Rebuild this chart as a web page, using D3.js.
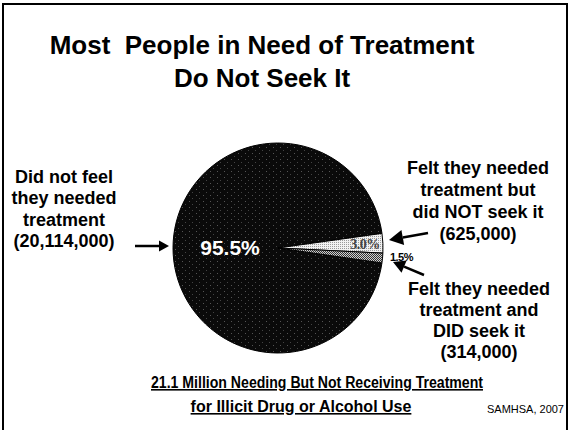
<!DOCTYPE html>
<html>
<head>
<meta charset="utf-8">
<script src="https://cdn.jsdelivr.net/npm/d3@7"></script>
<style>
  html, body { margin: 0; padding: 0; background: #fff; }
  svg { display: block; }
  text { font-family: "Liberation Sans", Arial, sans-serif; }
</style>
</head>
<body>
<div id="chart"></div>
<script>
// ---- data ----
const titleLines = ["Most  People in Need of Treatment", "Do Not Seek It"];
const categories = ["Did not feel they needed treatment", "Felt they needed treatment but did NOT seek it", "Felt they needed treatment and DID seek it"];
const percents = [95.5, 3.0, 1.5];
const pctLabels = ["95.5%", "3.0%", "1.5%"];
const counts = ["(20,114,000)", "(625,000)", "(314,000)"];
const labelLines = [
  ["Did not feel", "they needed", "treatment"],
  ["Felt they needed", "treatment but", "did NOT seek it"],
  ["Felt they needed", "treatment and", "DID seek it"]
];
const footLines = ["21.1 Million Needing But Not Receiving Treatment", "for Illicit Drug or Alcohol Use"];
const source = "SAMHSA, 2007";

const W = 571, H = 430;
const svg = d3.select("#chart").append("svg").attr("width", W).attr("height", H);
svg.append("rect").attr("width", W).attr("height", H).attr("fill", "#fff");

// patterns
const defs = svg.append("defs");
const p1 = defs.append("pattern").attr("id", "speck").attr("width", 7).attr("height", 6).attr("patternUnits", "userSpaceOnUse");
p1.append("rect").attr("width", 7).attr("height", 6).attr("fill", "#0a0a0a");
p1.append("rect").attr("x", 2).attr("y", 1).attr("width", 1).attr("height", 1).attr("fill", "#555");
p1.append("rect").attr("x", 5).attr("y", 4).attr("width", 1).attr("height", 1).attr("fill", "#444");
const p2 = defs.append("pattern").attr("id", "light").attr("width", 2).attr("height", 2).attr("patternUnits", "userSpaceOnUse");
p2.append("rect").attr("width", 2).attr("height", 2).attr("fill", "#f2f2f2");
p2.append("rect").attr("width", 1).attr("height", 1).attr("fill", "#9a9a9a");
const p3 = defs.append("pattern").attr("id", "mid").attr("width", 2).attr("height", 2).attr("patternUnits", "userSpaceOnUse");
p3.append("rect").attr("width", 2).attr("height", 2).attr("fill", "#d0d0d0");
p3.append("rect").attr("width", 1).attr("height", 1).attr("fill", "#333");
p3.append("rect").attr("x", 1).attr("y", 1).attr("width", 1).attr("height", 1).attr("fill", "#333");
const fills = ["url(#speck)", "url(#light)", "url(#mid)"];

// frame
svg.append("path").attr("d", `M3,${H} V4 H567 V${H}`).attr("fill", "none").attr("stroke", "#000").attr("stroke-width", 2);

// title
svg.append("g").selectAll("text").data(titleLines).join("text")
  .attr("x", 262).attr("y", (d, i) => 54 + i * 33)
  .attr("text-anchor", "middle").attr("font-size", 26).attr("font-weight", "bold").attr("fill", "#000")
  .style("white-space", "pre").text(d => d);

// pie
const cx = 278, cy = 248, R = 105;
const start = 98.2 * Math.PI / 180;
const pie = d3.pie().sort(null).startAngle(start).endAngle(start + 2 * Math.PI);
const arcs = pie(percents);
const arc = d3.arc().innerRadius(0).outerRadius(R);
const g = svg.append("g").attr("transform", `translate(${cx},${cy})`);
g.selectAll("path").data(arcs).join("path")
  .attr("d", arc).attr("fill", (d, i) => fills[i])
  .attr("stroke", "#000").attr("stroke-width", 1);

// category labels
const labelPos = [{x: 64, y: 183}, {x: 478, y: 174}, {x: 479, y: 295}];
const lineH = [21.3, 22, 21];
labelLines.forEach((lines, k) => {
  const all = lines.concat([counts[k]]);
  svg.append("g").selectAll("text").data(all).join("text")
    .attr("x", labelPos[k].x).attr("y", (d, i) => labelPos[k].y + i * lineH[k])
    .attr("text-anchor", "middle").attr("font-size", 18).attr("font-weight", "bold").attr("fill", "#000")
    .text(d => d);
});

// arrows
function arrow(x1, y1, x2, y2, head) {
  const ang = Math.atan2(y2 - y1, x2 - x1);
  const hl = head, hw = head * 0.55;
  const bx = x2 - hl * Math.cos(ang), by = y2 - hl * Math.sin(ang);
  svg.append("line").attr("x1", x1).attr("y1", y1).attr("x2", bx).attr("y2", by)
    .attr("stroke", "#000").attr("stroke-width", 2.5);
  const pts = [[x2, y2],
    [bx + hw * Math.sin(ang), by - hw * Math.cos(ang)],
    [bx - hw * Math.sin(ang), by + hw * Math.cos(ang)]];
  svg.append("polygon").attr("points", pts.map(p => p.join(",")).join(" ")).attr("fill", "#000");
}
arrow(135, 246, 169, 246, 10);
arrow(428, 233, 389, 240, 14);
arrow(424, 275, 393, 262, 12);

// percent labels (on top)
const labelR = [48, 87, 124];
const gl = svg.append("g").attr("transform", `translate(${cx},${cy})`);
gl.selectAll("text.pct").data(arcs).join("text").attr("class", "pct")
  .each(function(d, i) {
    const a = d3.arc().innerRadius(labelR[i]).outerRadius(labelR[i]);
    const [x, y] = a.centroid(d);
    const t = d3.select(this).attr("x", x).attr("y", i === 2 ? y - 3 : y).attr("dy", "0.35em").attr("text-anchor", "middle").text(pctLabels[i]);
    if (i === 0) t.attr("font-size", 21).attr("font-weight", "bold").attr("fill", "#fff");
    else if (i === 1) t.style("font-family", "'Liberation Serif', serif").attr("font-size", 14).attr("font-weight", "bold")
      .attr("fill", "#444").attr("letter-spacing", -0.5);
    else t.attr("font-size", 11).attr("font-weight", "bold").attr("fill", "#000").attr("letter-spacing", -0.5);
  });

// footnote
svg.append("g").selectAll("text").data(footLines).join("text")
  .attr("x", (d, i) => [317, 301][i]).attr("y", (d, i) => 388 + i * 24)
  .attr("text-anchor", "middle").attr("font-size", 16).attr("font-weight", "bold")
  .attr("text-decoration", "underline").attr("fill", "#000")
  .each(function(d, i) { if (i === 0) d3.select(this).attr("textLength", 332).attr("lengthAdjust", "spacingAndGlyphs"); })
  .text(d => d);
svg.append("text").attr("x", 564).attr("y", 413).attr("text-anchor", "end")
  .attr("font-size", 11).attr("fill", "#000").text(source);
</script>
</body>
</html>
